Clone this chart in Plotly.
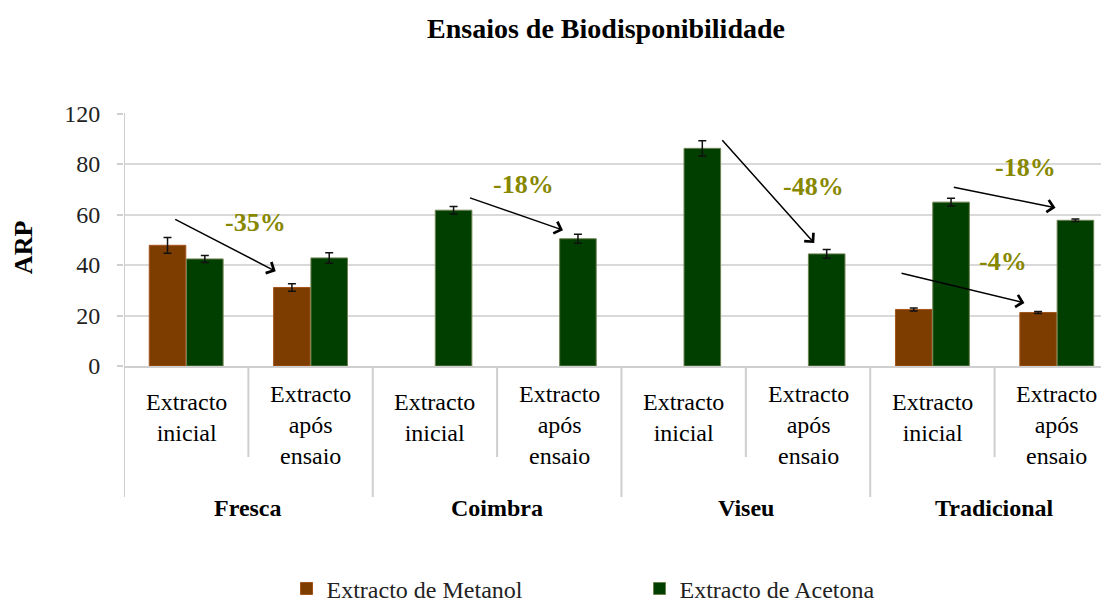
import plotly.graph_objects as go

# dados
grupos = ["Fresca", "Coimbra", "Viseu", "Tradicional"]
ensaios = ["Extracto<br>inicial", "Extracto<br>após<br>ensaio"]

metanol = [47.8, 31.1, None, None, None, None, 22.4, 21.2]
metanol_err = [3.1, 1.5, None, None, None, None, 0.6, 0.4]
acetona = [42.4, 42.8, 61.7, 50.4, 86.2, 44.4, 64.9, 57.7]
acetona_err = [1.4, 2.1, 1.5, 1.8, 3.0, 1.7, 1.5, 0.5]

y_ticks = [0, 20, 40, 60, 80, 100]
y_ticktext = ["0", "20", "40", "60", "80", "120"]

# (início x, início y, fim x, fim y)
setas = [
    (-0.10, 58.4, 0.72, 37.5),
    (2.27, 66.8, 3.03, 53.8),
    (4.30, 90.0, 5.05, 48.7),
    (6.16, 70.9, 6.99, 62.7),
    (5.74, 36.9, 6.74, 25.0),
]
rotulos = ["-35%", "-18%", "-48%", "-18%", "-4%"]
rotulos_pos = [(0.56, 57.0), (2.71, 71.9), (5.04, 70.9), (6.75, 78.5), (6.57, 41.2)]

FONT = "Times New Roman, Liberation Serif, serif"
GRID = "#D9D9D9"
AXIS = "#CFCFCF"

# a página tem 8px de margem no body: compensa-se aqui
W, H = 1117, 660
OFF = 8

n = len(grupos) * len(ensaios)
xs = list(range(n))

fig = go.Figure()
fig.add_trace(go.Bar(
    x=xs, y=metanol, name="Extracto de Metanol",
    marker=dict(color="#7E3D00", line=dict(color="#A4541A", width=1)),
    error_y=dict(type="data", array=metanol_err, color="#111111", thickness=1.5, width=4),
))
fig.add_trace(go.Bar(
    x=xs, y=acetona, name="Extracto de Acetona",
    marker=dict(color="#003F00", line=dict(color="#6E8250", width=1)),
    error_y=dict(type="data", array=acetona_err, color="#111111", thickness=1.5, width=4),
))

# setas e percentagens
for (x0, y0, x1, y1) in setas:
    fig.add_annotation(
        x=x1, y=y1, ax=x0, ay=y0, xref="x", yref="y", axref="x", ayref="y",
        text="", showarrow=True, arrowhead=4, arrowsize=1.6, arrowwidth=1.5,
        arrowcolor="black", standoff=0,
    )
for txt, (x, y) in zip(rotulos, rotulos_pos):
    fig.add_annotation(
        x=x, y=y, xref="x", yref="y", text="<b>%s</b>" % txt, showarrow=False,
        font=dict(family=FONT, size=26, color="#878700"),
    )

# rótulos do eixo x (dois níveis) e divisórias
for i in range(n):
    lab = ensaios[i % len(ensaios)]
    fig.add_annotation(
        x=i, y=-0.2035 if i % 2 == 0 else -0.233, xref="x", yref="paper",
        text=lab, showarrow=False, yanchor="middle",
        font=dict(family=FONT, size=24, color="black"),
    )
    if i % 2 == 1:
        fig.add_shape(type="line", x0=i - 0.5, x1=i - 0.5, xref="x", yref="paper",
                      y0=0, y1=-0.36, line=dict(color=AXIS, width=2))
for g, nome in enumerate(grupos):
    fig.add_annotation(
        x=2 * g + 0.5, y=-0.561, xref="x", yref="paper",
        text="<b>%s</b>" % nome, showarrow=False, yanchor="middle",
        font=dict(family=FONT, size=24, color="black"),
    )
    fig.add_shape(type="line", x0=2 * g - 0.5, x1=2 * g - 0.5, xref="x", yref="paper",
                  y0=1 if g == 0 else 0, y1=-0.518, line=dict(color=AXIS, width=2))

fig.add_annotation(
    x=-0.1025, y=0.47, xref="paper", yref="paper", text="<b>ARP</b>",
    xanchor="center", yanchor="middle",
    textangle=-90, showarrow=False, font=dict(family=FONT, size=26, color="black"),
)

fig.update_layout(
    width=W, height=H,
    margin=dict(l=124 - OFF, r=W - (1109 - OFF), t=113 - OFF, b=H - (366 - OFF)),
    paper_bgcolor="white", plot_bgcolor="white",
    font=dict(family=FONT, size=24, color="#222222"),
    title=dict(
        text="<b>Ensaios de Biodisponibilidade</b>",
        x=(606 - OFF) / W, xanchor="center", xref="container",
        y=1 - (28 - OFF) / H, yanchor="middle",
        font=dict(family=FONT, size=28, color="black"),
    ),
    barmode="group", bargap=0.4, bargroupgap=0.02,
    showlegend=True,
    legend=dict(
        orientation="h", x=0.165, xanchor="left", y=-0.881, yanchor="middle",
        entrywidth=308, entrywidthmode="pixels",
        font=dict(family=FONT, size=24, color="#222222"),
    ),
    xaxis=dict(
        range=[-0.5, 7.42], showticklabels=False, showgrid=False, zeroline=False,
        showline=True, linecolor=AXIS, linewidth=2, ticks="",
    ),
    yaxis=dict(
        range=[0, 100.2], tickvals=y_ticks, ticktext=y_ticktext,
        showgrid=True, gridcolor=GRID, gridwidth=1.5, zeroline=False,
        showline=False, ticks="outside", ticklen=6, tickcolor=AXIS, tickwidth=1.5,
        ticklabelstandoff=12,
        tickfont=dict(family=FONT, size=24, color="#222222"),
    ),
)

fig.write_html("out.html")
